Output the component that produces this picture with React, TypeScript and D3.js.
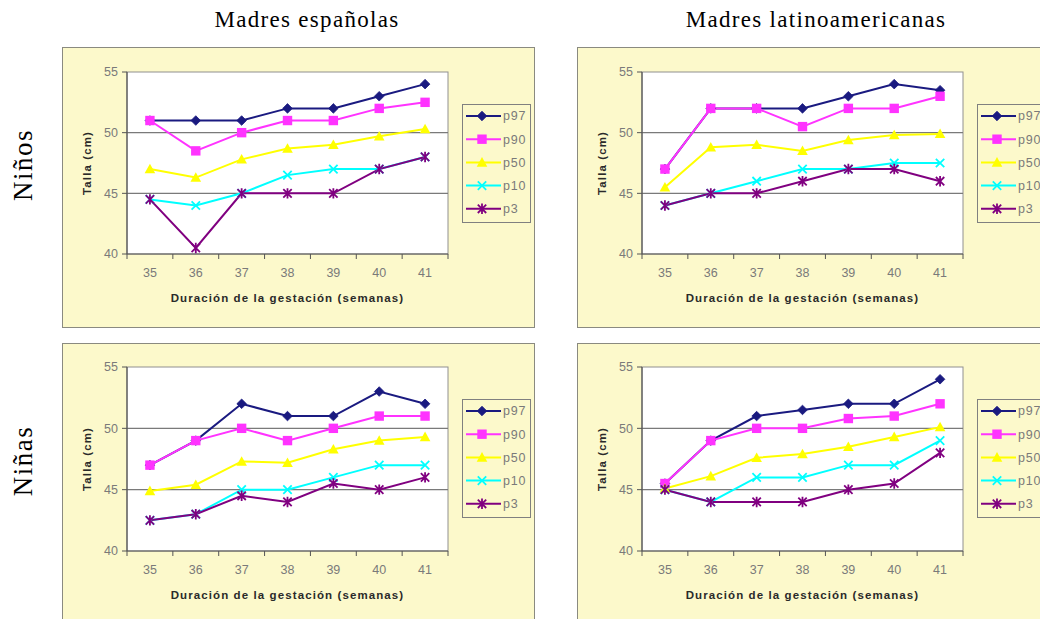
import React from 'react';
import * as d3 from 'd3';

const weeks = ['35', '36', '37', '38', '39', '40', '41'];
const seriesNames = ['p97', 'p90', 'p50', 'p10', 'p3'];
const yTicks = [40, 45, 50, 55];
const columnTitles = ['Madres españolas', 'Madres latinoamericanas'];
const rowTitles = ['Niños', 'Niñas'];

// Niños – madres españolas
const ninosEspP97 = [51, 51, 51, 52, 52, 53, 54];
const ninosEspP90 = [51, 48.5, 50, 51, 51, 52, 52.5];
const ninosEspP50 = [47, 46.3, 47.8, 48.7, 49, 49.7, 50.3];
const ninosEspP10 = [44.5, 44, 45, 46.5, 47, 47, 48];
const ninosEspP3 = [44.5, 40.5, 45, 45, 45, 47, 48];

// Niños – madres latinoamericanas
const ninosLatP97 = [47, 52, 52, 52, 53, 54, 53.5];
const ninosLatP90 = [47, 52, 52, 50.5, 52, 52, 53];
const ninosLatP50 = [45.5, 48.8, 49, 48.5, 49.4, 49.8, 49.9];
const ninosLatP10 = [44, 45, 46, 47, 47, 47.5, 47.5];
const ninosLatP3 = [44, 45, 45, 46, 47, 47, 46];

// Niñas – madres españolas
const ninasEspP97 = [47, 49, 52, 51, 51, 53, 52];
const ninasEspP90 = [47, 49, 50, 49, 50, 51, 51];
const ninasEspP50 = [44.9, 45.4, 47.3, 47.2, 48.3, 49, 49.3];
const ninasEspP10 = [42.5, 43, 45, 45, 46, 47, 47];
const ninasEspP3 = [42.5, 43, 44.5, 44, 45.5, 45, 46];

// Niñas – madres latinoamericanas
const ninasLatP97 = [45.5, 49, 51, 51.5, 52, 52, 54];
const ninasLatP90 = [45.5, 49, 50, 50, 50.8, 51, 52];
const ninasLatP50 = [45.1, 46.1, 47.6, 47.9, 48.5, 49.3, 50.1];
const ninasLatP10 = [45, 44, 46, 46, 47, 47, 49];
const ninasLatP3 = [45, 44, 44, 44, 45, 45.5, 48];

const seriesColors = ['#1a1a80', '#ff33ff', '#ffff00', '#00ffff', '#800080'];
const markerTypes = ['diamond', 'square', 'triangle', 'x', 'star'];

const panels = [
  { x: 62, y: 47, h: 280, plotTop: 72, plotBottom: 254, data: [ninosEspP97, ninosEspP90, ninosEspP50, ninosEspP10, ninosEspP3] },
  { x: 577, y: 47, h: 280, plotTop: 72, plotBottom: 254, data: [ninosLatP97, ninosLatP90, ninosLatP50, ninosLatP10, ninosLatP3] },
  { x: 62, y: 343, h: 300, plotTop: 367, plotBottom: 551, data: [ninasEspP97, ninasEspP90, ninasEspP50, ninasEspP10, ninasEspP3] },
  { x: 577, y: 343, h: 300, plotTop: 367, plotBottom: 551, data: [ninasLatP97, ninasLatP90, ninasLatP50, ninasLatP10, ninasLatP3] },
];

const PANEL_BG = '#fcf9cb';
const SANS = 'Arial, "Liberation Sans", sans-serif';
const SERIF = '"Times New Roman", "Liberation Serif", serif';

function Marker({ type, x, y, color }: { type: string; x: number; y: number; color: string }) {
  if (type === 'diamond') {
    const s = 4.8;
    return <path d={`M${x},${y - s}L${x + s},${y}L${x},${y + s}L${x - s},${y}Z`} fill={color} stroke={color} strokeWidth={0.8} />;
  }
  if (type === 'square') {
    const s = 4.7;
    return <rect x={x - s} y={y - s} width={2 * s} height={2 * s} fill={color} />;
  }
  if (type === 'triangle') {
    const s = 5.3;
    return <path d={`M${x},${y - s}L${x + s},${y + s * 0.8}L${x - s},${y + s * 0.8}Z`} fill={color} />;
  }
  if (type === 'x') {
    const s = 4.2;
    return <path d={`M${x - s},${y - s}L${x + s},${y + s}M${x - s},${y + s}L${x + s},${y - s}`} stroke={color} strokeWidth={1.8} />;
  }
  const s = 4.2;
  return (
    <path
      d={`M${x - s},${y - s}L${x + s},${y + s}M${x - s},${y + s}L${x + s},${y - s}M${x},${y - s - 1}L${x},${y + s + 1}`}
      stroke={color}
      strokeWidth={1.8}
    />
  );
}

function Panel({ x, y, h, plotTop, plotBottom, data }: any) {
  const plotLeft = x + 65;
  const plotRight = x + 386;
  const xScale = d3.scaleBand<string>().domain(weeks).range([plotLeft, plotRight]);
  const yScale = d3.scaleLinear().domain([40, 55]).range([plotBottom, plotTop]);
  const line = d3
    .line<number>()
    .x((_, i) => (xScale(weeks[i]) as number) + xScale.bandwidth() / 2)
    .y((v) => yScale(v));
  const legendX = plotRight + 14;
  const legendTop = plotTop + 32;
  const legendStep = 23.2;
  const midX = (plotLeft + plotRight) / 2;
  const midY = (plotTop + plotBottom) / 2;
  const boundaries = weeks.map((w) => xScale(w) as number).concat([plotRight]);
  return (
    <g>
      <rect x={x + 0.5} y={y + 0.5} width={472} height={h} fill={PANEL_BG} stroke="#8a8a80" strokeWidth={1} />
      <rect x={plotLeft} y={plotTop} width={plotRight - plotLeft} height={plotBottom - plotTop} fill="#ffffff" stroke="#909090" strokeWidth={1} />
      {[45, 50].map((t) => (
        <line key={t} x1={plotLeft} x2={plotRight} y1={yScale(t)} y2={yScale(t)} stroke="#7a7a7a" strokeWidth={1.2} />
      ))}
      <line x1={plotLeft} x2={plotLeft} y1={plotTop} y2={plotBottom} stroke="#555" strokeWidth={1.2} />
      <line x1={plotLeft} x2={plotRight} y1={plotBottom} y2={plotBottom} stroke="#555" strokeWidth={1.2} />
      {yTicks.map((t) => (
        <g key={t}>
          <line x1={plotLeft - 5} x2={plotLeft} y1={yScale(t)} y2={yScale(t)} stroke="#555" strokeWidth={1} />
          <text x={plotLeft - 9} y={yScale(t)} dy="0.35em" textAnchor="end" fontFamily={SANS} fontSize={12.5} fill="#7a7a7a">
            {t}
          </text>
        </g>
      ))}
      {boundaries.map((b, i) => (
        <line key={i} x1={b} x2={b} y1={plotBottom} y2={plotBottom + 5} stroke="#555" strokeWidth={1} />
      ))}
      {weeks.map((w) => (
        <text
          key={w}
          x={(xScale(w) as number) + xScale.bandwidth() / 2}
          y={plotBottom + 19}
          dy="0.35em"
          textAnchor="middle"
          fontFamily={SANS}
          fontSize={12.5}
          fill="#7a7a7a"
        >
          {w}
        </text>
      ))}
      <text x={midX} y={plotBottom + 44} dy="0.35em" textAnchor="middle" fontFamily={SANS} fontWeight="bold" fontSize={11.5} letterSpacing={1.1} fill="#2a2a2a">
        Duración de la gestación (semanas)
      </text>
      <text
        transform={`translate(${plotLeft - 40},${midY}) rotate(-90)`}
        textAnchor="middle"
        dy="0.35em"
        fontFamily={SANS}
        fontWeight="bold"
        fontSize={11.5}
        letterSpacing={1.1}
        fill="#2a2a2a"
      >
        Talla (cm)
      </text>
      {data.map((vals: number[], si: number) => (
        <path key={si} d={line(vals) as string} fill="none" stroke={seriesColors[si]} strokeWidth={2} />
      ))}
      {data.map((vals: number[], si: number) => (
        <g key={si}>
          {vals.map((v, i) => (
            <Marker
              key={i}
              type={markerTypes[si]}
              x={(xScale(weeks[i]) as number) + xScale.bandwidth() / 2}
              y={yScale(v)}
              color={seriesColors[si]}
            />
          ))}
        </g>
      ))}
      <rect x={legendX + 0.5} y={legendTop + 0.5} width={68} height={118} fill={PANEL_BG} stroke="#808080" strokeWidth={1} />
      {seriesNames.map((n, si) => {
        const ly = legendTop + 12 + si * legendStep;
        return (
          <g key={n}>
            <line x1={legendX + 4} x2={legendX + 39} y1={ly} y2={ly} stroke={seriesColors[si]} strokeWidth={2} />
            <Marker type={markerTypes[si]} x={legendX + 20} y={ly} color={seriesColors[si]} />
            <text x={legendX + 41} y={ly} dy="0.35em" fontFamily={SANS} fontSize={12.5} letterSpacing={0.8} fill="#7a7a7a">
              {n}
            </text>
          </g>
        );
      })}
    </g>
  );
}

export default function App() {
  return (
    <svg width={1040} height={619} style={{ position: 'absolute', left: 0, top: 0, background: '#ffffff' }}>
      <rect x={0} y={0} width={1040} height={619} fill="#ffffff" />
      <text x={307} y={27} textAnchor="middle" fontFamily={SERIF} fontSize={23} letterSpacing={1.3} fill="#000">
        {columnTitles[0]}
      </text>
      <text x={816} y={27} textAnchor="middle" fontFamily={SERIF} fontSize={23} letterSpacing={1.3} fill="#000">
        {columnTitles[1]}
      </text>
      <text transform="translate(32,165) rotate(-90)" textAnchor="middle" fontFamily={SERIF} fontSize={27} letterSpacing={1.5} fill="#000">
        {rowTitles[0]}
      </text>
      <text transform="translate(32,461) rotate(-90)" textAnchor="middle" fontFamily={SERIF} fontSize={27} letterSpacing={1.5} fill="#000">
        {rowTitles[1]}
      </text>
      {panels.map((p, i) => (
        <Panel key={i} {...p} />
      ))}
    </svg>
  );
}
